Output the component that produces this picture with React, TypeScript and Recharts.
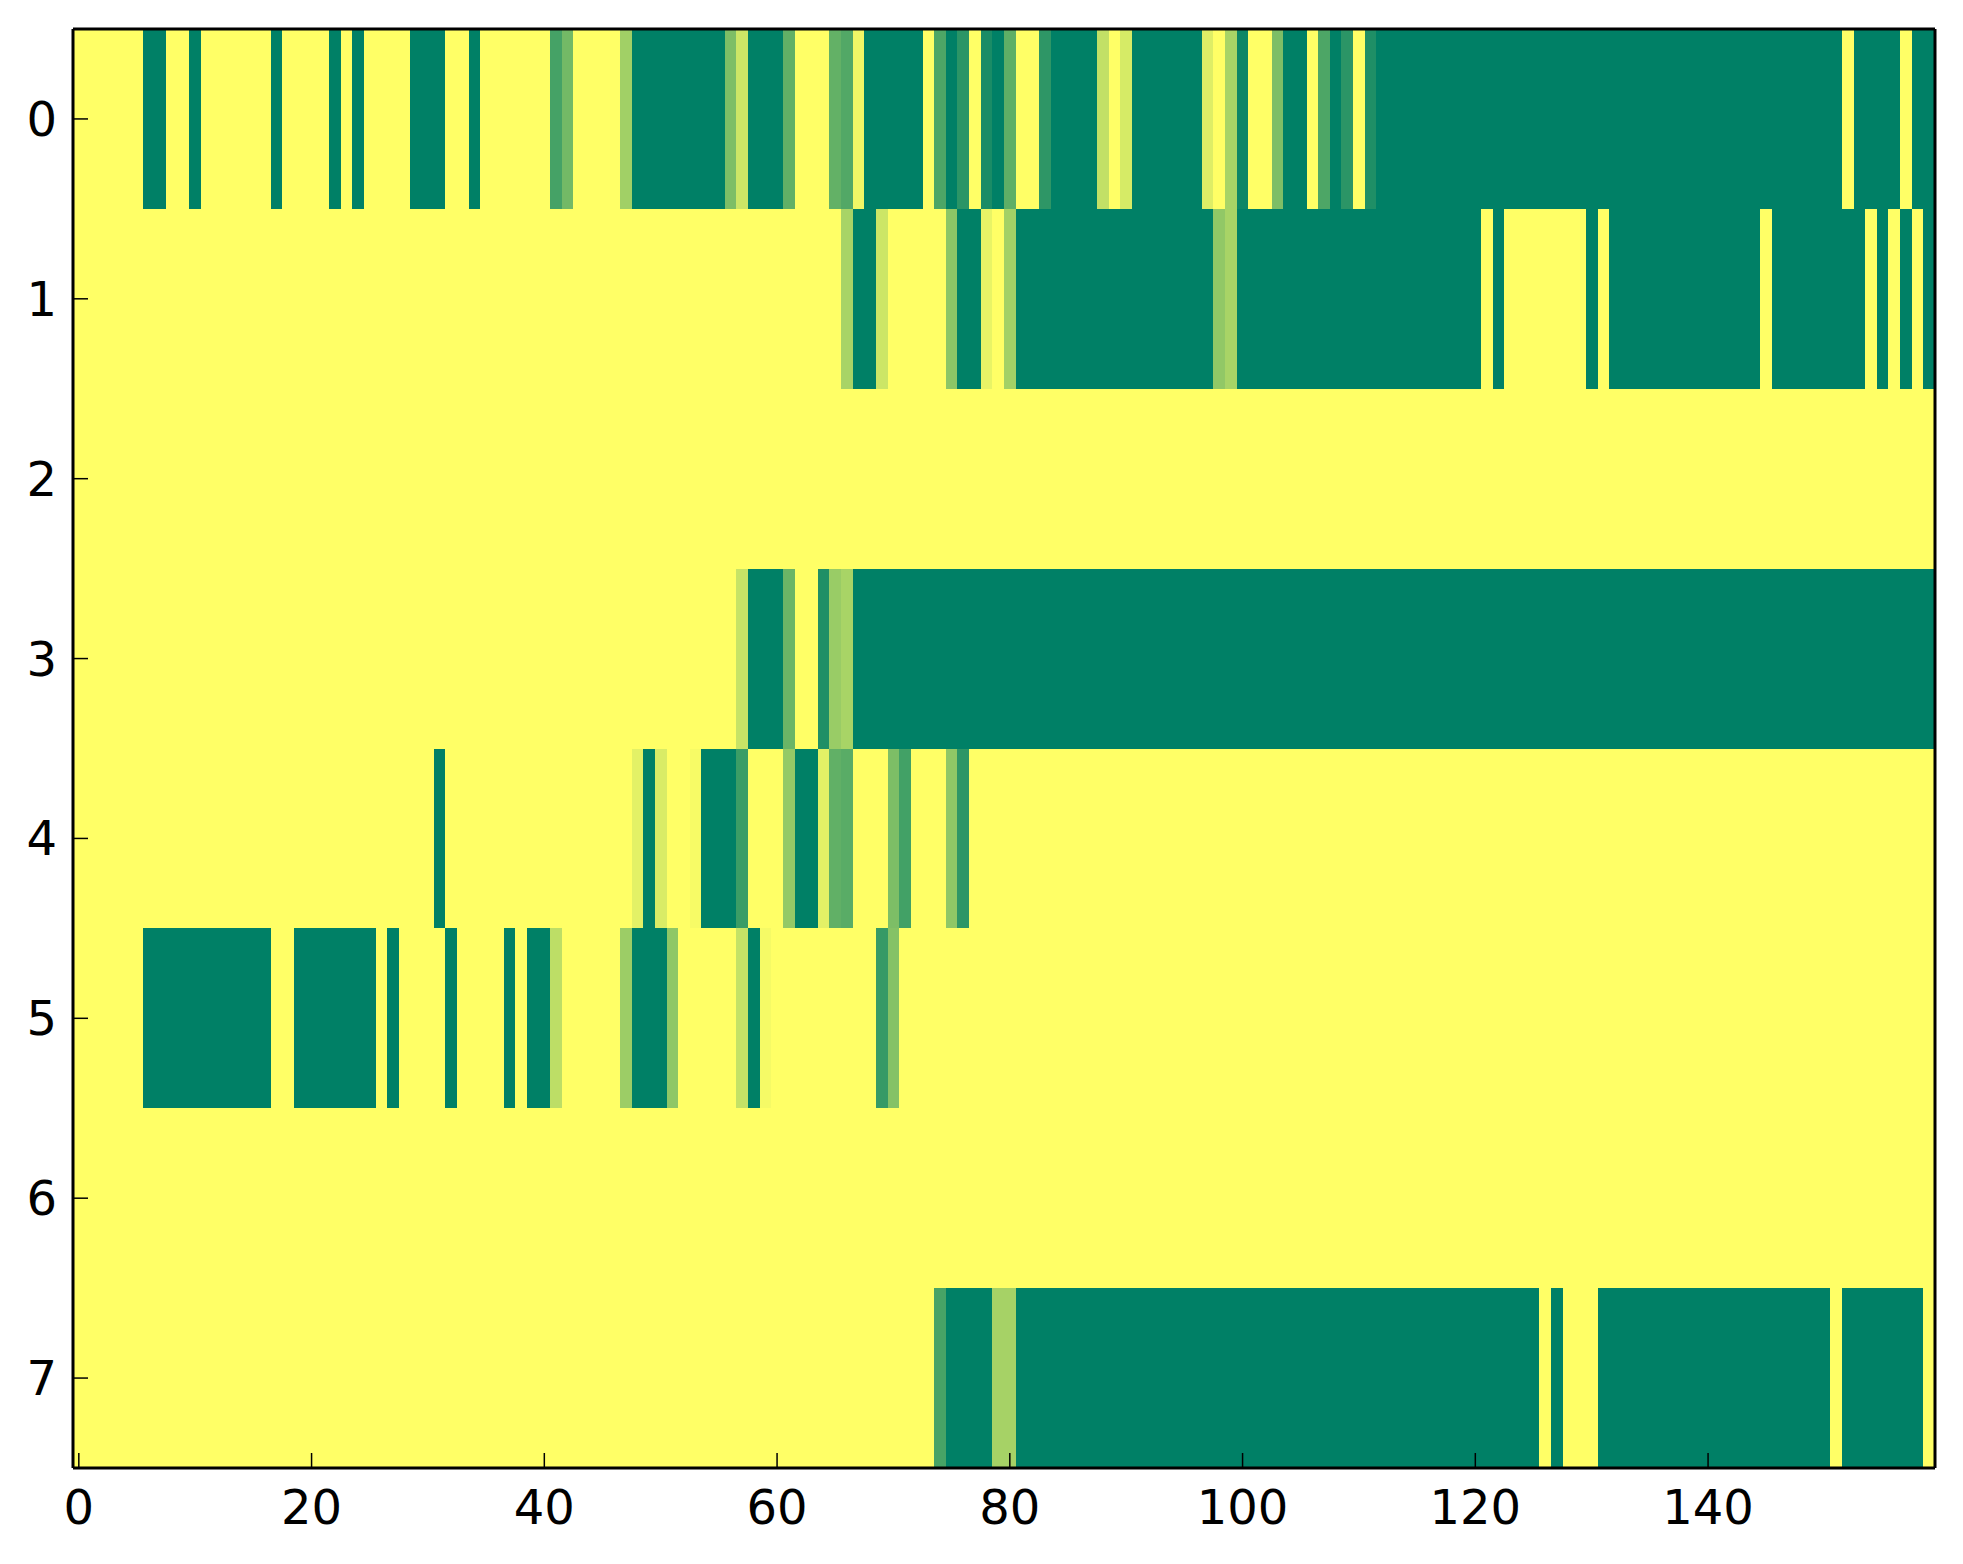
import { ScatterChart, Scatter, XAxis, YAxis } from 'recharts';

// heatmap values, 0 = green end of the "summer" map, 1 = yellow end
const ROW_0 = [
  1, 1, 1, 1, 1, 1, 0, 0, 1, 1, 0, 1, 1, 1, 1, 1, 1, 0, 1, 1,
  1, 1, 0, 1, 0, 1, 1, 1, 1, 0, 0, 0, 1, 1, 0, 1, 1, 1, 1, 1,
  1, 0.27, 0.45, 1, 1, 1, 1, 0.63, 0, 0, 0, 0, 0, 0, 0, 0, 0.49, 0.8, 0, 0,
  0, 0.38, 1, 1, 1, 0.39, 0.32, 0.94, 0, 0, 0, 0, 0, 1, 0.3, 0, 0.17, 1, 0.1, 0,
  0.37, 1, 1, 0.18, 0, 0, 0, 0, 0.76, 1, 0.84, 0, 0, 0, 0, 0, 0, 0.87, 1, 0.66,
  0.05, 1, 1, 0.49, 0, 0, 1, 0.3, 0, 0.17, 1, 0.12, 0, 0, 0, 0, 0, 0, 0, 0,
  0, 0, 0, 0, 0, 0, 0, 0, 0, 0, 0, 0, 0, 0, 0, 0, 0, 0, 0, 0,
  0, 0, 0, 0, 0, 0, 0, 0, 0, 0, 0, 0, 1, 0, 0, 0, 0, 1, 0, 0,
];
const ROW_1 = [
  1, 1, 1, 1, 1, 1, 1, 1, 1, 1, 1, 1, 1, 1, 1, 1, 1, 1, 1, 1,
  1, 1, 1, 1, 1, 1, 1, 1, 1, 1, 1, 1, 1, 1, 1, 1, 1, 1, 1, 1,
  1, 1, 1, 1, 1, 1, 1, 1, 1, 1, 1, 1, 1, 1, 1, 1, 1, 1, 1, 1,
  1, 1, 1, 1, 1, 1, 0.66, 0, 0, 0.8, 1, 1, 1, 1, 1, 0.55, 0, 0, 0.91, 1,
  0.64, 0, 0, 0, 0, 0, 0, 0, 0, 0, 0, 0, 0, 0, 0, 0, 0, 0, 0.57, 0.66,
  0, 0, 0, 0, 0, 0, 0, 0, 0, 0, 0, 0, 0, 0, 0, 0, 0, 0, 0, 0,
  0, 1, 0, 1, 1, 1, 1, 1, 1, 1, 0, 1, 0, 0, 0, 0, 0, 0, 0, 0,
  0, 0, 0, 0, 0, 1, 0, 0, 0, 0, 0, 0, 0, 0, 1, 0, 1, 0, 1, 0,
];
const ROW_2 = [
  1, 1, 1, 1, 1, 1, 1, 1, 1, 1, 1, 1, 1, 1, 1, 1, 1, 1, 1, 1,
  1, 1, 1, 1, 1, 1, 1, 1, 1, 1, 1, 1, 1, 1, 1, 1, 1, 1, 1, 1,
  1, 1, 1, 1, 1, 1, 1, 1, 1, 1, 1, 1, 1, 1, 1, 1, 1, 1, 1, 1,
  1, 1, 1, 1, 1, 1, 1, 1, 1, 1, 1, 1, 1, 1, 1, 1, 1, 1, 1, 1,
  1, 1, 1, 1, 1, 1, 1, 1, 1, 1, 1, 1, 1, 1, 1, 1, 1, 1, 1, 1,
  1, 1, 1, 1, 1, 1, 1, 1, 1, 1, 1, 1, 1, 1, 1, 1, 1, 1, 1, 1,
  1, 1, 1, 1, 1, 1, 1, 1, 1, 1, 1, 1, 1, 1, 1, 1, 1, 1, 1, 1,
  1, 1, 1, 1, 1, 1, 1, 1, 1, 1, 1, 1, 1, 1, 1, 1, 1, 1, 1, 1,
];
const ROW_3 = [
  1, 1, 1, 1, 1, 1, 1, 1, 1, 1, 1, 1, 1, 1, 1, 1, 1, 1, 1, 1,
  1, 1, 1, 1, 1, 1, 1, 1, 1, 1, 1, 1, 1, 1, 1, 1, 1, 1, 1, 1,
  1, 1, 1, 1, 1, 1, 1, 1, 1, 1, 1, 1, 1, 1, 1, 1, 1, 0.78, 0, 0,
  0, 0.42, 1, 1, 0.12, 0.6, 0.66, 0, 0, 0, 0, 0, 0, 0, 0, 0, 0, 0, 0, 0,
  0, 0, 0, 0, 0, 0, 0, 0, 0, 0, 0, 0, 0, 0, 0, 0, 0, 0, 0, 0,
  0, 0, 0, 0, 0, 0, 0, 0, 0, 0, 0, 0, 0, 0, 0, 0, 0, 0, 0, 0,
  0, 0, 0, 0, 0, 0, 0, 0, 0, 0, 0, 0, 0, 0, 0, 0, 0, 0, 0, 0,
  0, 0, 0, 0, 0, 0, 0, 0, 0, 0, 0, 0, 0, 0, 0, 0, 0, 0, 0, 0,
];
const ROW_4 = [
  1, 1, 1, 1, 1, 1, 1, 1, 1, 1, 1, 1, 1, 1, 1, 1, 1, 1, 1, 1,
  1, 1, 1, 1, 1, 1, 1, 1, 1, 1, 1, 0, 1, 1, 1, 1, 1, 1, 1, 1,
  1, 1, 1, 1, 1, 1, 1, 1, 0.89, 0, 0.85, 1, 1, 0.97, 0, 0, 0, 0.23, 1, 1,
  1, 0.58, 0, 0, 0.89, 0.38, 0.35, 1, 1, 1, 0.49, 0.26, 1, 1, 1, 0.56, 0.18, 1, 1, 1,
  1, 1, 1, 1, 1, 1, 1, 1, 1, 1, 1, 1, 1, 1, 1, 1, 1, 1, 1, 1,
  1, 1, 1, 1, 1, 1, 1, 1, 1, 1, 1, 1, 1, 1, 1, 1, 1, 1, 1, 1,
  1, 1, 1, 1, 1, 1, 1, 1, 1, 1, 1, 1, 1, 1, 1, 1, 1, 1, 1, 1,
  1, 1, 1, 1, 1, 1, 1, 1, 1, 1, 1, 1, 1, 1, 1, 1, 1, 1, 1, 1,
];
const ROW_5 = [
  1, 1, 1, 1, 1, 1, 0, 0, 0, 0, 0, 0, 0, 0, 0, 0, 0, 1, 1, 0,
  0, 0, 0, 0, 0, 0, 1, 0, 1, 1, 1, 1, 0, 1, 1, 1, 1, 0, 1, 0,
  0, 0.74, 1, 1, 1, 1, 1, 0.61, 0, 0, 0, 0.56, 1, 1, 1, 1, 1, 0.77, 0, 0.96,
  1, 1, 1, 1, 1, 1, 1, 1, 1, 0.21, 0.52, 1, 1, 1, 1, 1, 1, 1, 1, 1,
  1, 1, 1, 1, 1, 1, 1, 1, 1, 1, 1, 1, 1, 1, 1, 1, 1, 1, 1, 1,
  1, 1, 1, 1, 1, 1, 1, 1, 1, 1, 1, 1, 1, 1, 1, 1, 1, 1, 1, 1,
  1, 1, 1, 1, 1, 1, 1, 1, 1, 1, 1, 1, 1, 1, 1, 1, 1, 1, 1, 1,
  1, 1, 1, 1, 1, 1, 1, 1, 1, 1, 1, 1, 1, 1, 1, 1, 1, 1, 1, 1,
];
const ROW_6 = [
  1, 1, 1, 1, 1, 1, 1, 1, 1, 1, 1, 1, 1, 1, 1, 1, 1, 1, 1, 1,
  1, 1, 1, 1, 1, 1, 1, 1, 1, 1, 1, 1, 1, 1, 1, 1, 1, 1, 1, 1,
  1, 1, 1, 1, 1, 1, 1, 1, 1, 1, 1, 1, 1, 1, 1, 1, 1, 1, 1, 1,
  1, 1, 1, 1, 1, 1, 1, 1, 1, 1, 1, 1, 1, 1, 1, 1, 1, 1, 1, 1,
  1, 1, 1, 1, 1, 1, 1, 1, 1, 1, 1, 1, 1, 1, 1, 1, 1, 1, 1, 1,
  1, 1, 1, 1, 1, 1, 1, 1, 1, 1, 1, 1, 1, 1, 1, 1, 1, 1, 1, 1,
  1, 1, 1, 1, 1, 1, 1, 1, 1, 1, 1, 1, 1, 1, 1, 1, 1, 1, 1, 1,
  1, 1, 1, 1, 1, 1, 1, 1, 1, 1, 1, 1, 1, 1, 1, 1, 1, 1, 1, 1,
];
const ROW_7 = [
  1, 1, 1, 1, 1, 1, 1, 1, 1, 1, 1, 1, 1, 1, 1, 1, 1, 1, 1, 1,
  1, 1, 1, 1, 1, 1, 1, 1, 1, 1, 1, 1, 1, 1, 1, 1, 1, 1, 1, 1,
  1, 1, 1, 1, 1, 1, 1, 1, 1, 1, 1, 1, 1, 1, 1, 1, 1, 1, 1, 1,
  1, 1, 1, 1, 1, 1, 1, 1, 1, 1, 1, 1, 1, 1, 0.28, 0, 0, 0, 0, 0.65,
  0.65, 0, 0, 0, 0, 0, 0, 0, 0, 0, 0, 0, 0, 0, 0, 0, 0, 0, 0, 0,
  0, 0, 0, 0, 0, 0, 0, 0, 0, 0, 0, 0, 0, 0, 0, 0, 0, 0, 0, 0,
  0, 0, 0, 0, 0, 0, 1, 0, 1, 1, 1, 0, 0, 0, 0, 0, 0, 0, 0, 0,
  0, 0, 0, 0, 0, 0, 0, 0, 0, 0, 0, 1, 0, 0, 0, 0, 0, 0, 0, 1,
];

const ROWS = [ROW_0, ROW_1, ROW_2, ROW_3, ROW_4, ROW_5, ROW_6, ROW_7];
const Y_TICKS = [0, 1, 2, 3, 4, 5, 6, 7];
const X_TICKS = [0, 20, 40, 60, 80, 100, 120, 140];

const WIDTH = 1963;
const HEIGHT = 1564;
const MARGIN = { top: 28, right: 27, bottom: 0, left: 0 };
const Y_AXIS_W = 73;
const X_AXIS_H = 96;
const EDGE = 1; // size of the tick-only top / right axes
const N_COLS = ROW_0.length;
const PLOT_W = WIDTH - MARGIN.left - MARGIN.right - Y_AXIS_W - EDGE;
const PLOT_H = HEIGHT - MARGIN.top - MARGIN.bottom - X_AXIS_H - EDGE;
const CELL_W = PLOT_W / N_COLS;
const CELL_H = PLOT_H / ROWS.length;
const X_DOMAIN = [-0.5, N_COLS - 0.5];
const Y_DOMAIN = [-0.5, ROWS.length - 0.5];

// matplotlib "summer": r = v, g = 0.5 + v / 2, b = 0.4
function summer(v: number): string {
  const r = Math.round(255 * v);
  const g = Math.round(127.5 + 127.5 * v);
  return `rgb(${r}, ${g}, 102)`;
}

const cells = ROWS.flatMap((row, r) => row.map((v, c) => ({ col: c, row: r, v })));

const tickFont = { fill: '#000', fontSize: 48, fontFamily: 'DejaVu Sans' };
const spine = { stroke: '#000', strokeWidth: 3 };
const tickMark = { stroke: '#000', strokeWidth: 1.5 };

function HeatCell(props: any) {
  const { cx, cy, payload } = props;
  if (cx == null || cy == null) return null;
  return (
    <rect
      x={cx - CELL_W / 2}
      y={cy - CELL_H / 2}
      width={CELL_W + 0.6}
      height={CELL_H + 0.6}
      fill={summer(payload.v)}
      shapeRendering="crispEdges"
    />
  );
}

// four axes; `frame` draws spines, inward ticks and labels, otherwise they only lay out the plot
function Axes({ frame }: { frame: boolean }) {
  return [
    <XAxis
      key="b"
      xAxisId={0}
      type="number"
      dataKey="col"
      domain={X_DOMAIN}
      allowDataOverflow
      ticks={X_TICKS}
      interval={0}
      height={X_AXIS_H}
      tick={frame ? tickFont : false}
      tickSize={-15}
      tickMargin={37}
      tickLine={frame ? tickMark : false}
      axisLine={frame ? spine : false}
    />,
    <XAxis
      key="t"
      xAxisId="top"
      orientation="top"
      type="number"
      dataKey="col"
      domain={X_DOMAIN}
      allowDataOverflow
      ticks={X_TICKS}
      interval={0}
      height={EDGE}
      tick={false}
      tickSize={-15}
      tickLine={frame ? tickMark : false}
      axisLine={frame ? spine : false}
    />,
    <YAxis
      key="l"
      yAxisId={0}
      type="number"
      dataKey="row"
      domain={Y_DOMAIN}
      allowDataOverflow
      reversed
      ticks={Y_TICKS}
      interval={0}
      width={Y_AXIS_W}
      tick={frame ? tickFont : false}
      tickSize={-15}
      tickMargin={31}
      tickLine={frame ? tickMark : false}
      axisLine={frame ? spine : false}
    />,
    <YAxis
      key="r"
      yAxisId="right"
      orientation="right"
      type="number"
      dataKey="row"
      domain={Y_DOMAIN}
      allowDataOverflow
      reversed
      ticks={Y_TICKS}
      interval={0}
      width={EDGE}
      tick={false}
      tickSize={-15}
      tickLine={frame ? tickMark : false}
      axisLine={frame ? spine : false}
    />,
  ];
}

export default function App() {
  return (
    <div style={{ position: 'absolute', left: 0, top: 0, width: WIDTH, height: HEIGHT, background: '#fff' }}>
      <div style={{ position: 'absolute', left: 0, top: 0 }}>
        <ScatterChart width={WIDTH} height={HEIGHT} margin={MARGIN}>
          {Axes({ frame: false })}
          <Scatter
            xAxisId={0}
            yAxisId={0}
            data={cells}
            shape={HeatCell}
            isAnimationActive={false}
          />
        </ScatterChart>
      </div>
      <div style={{ position: 'absolute', left: 0, top: 0, pointerEvents: 'none' }}>
        <ScatterChart width={WIDTH} height={HEIGHT} margin={MARGIN}>
          {Axes({ frame: true })}
          <Scatter xAxisId={0} yAxisId={0} data={[]} isAnimationActive={false} />
        </ScatterChart>
      </div>
    </div>
  );
}
